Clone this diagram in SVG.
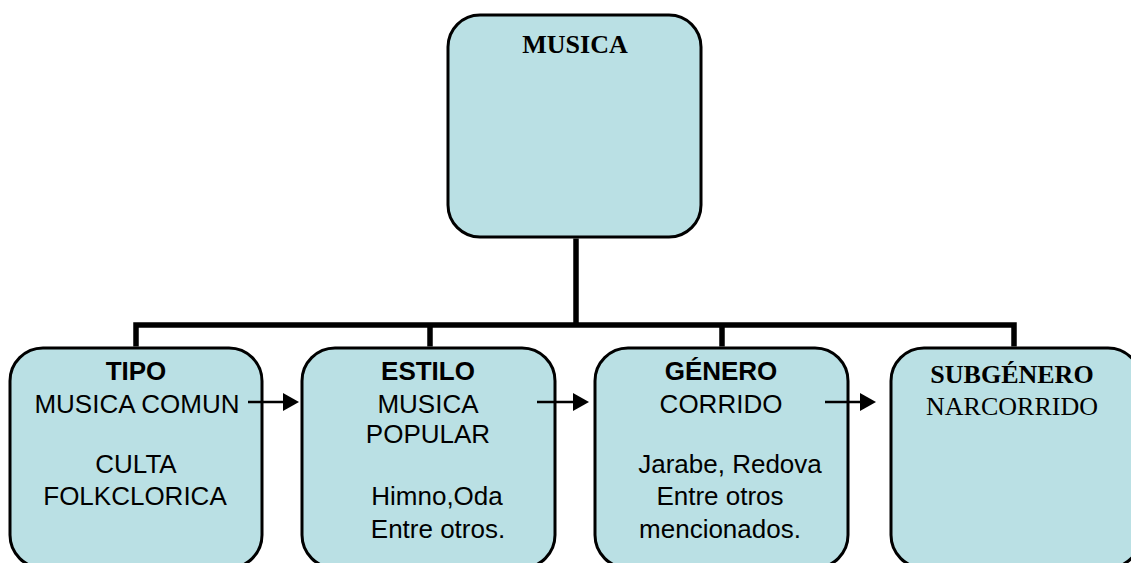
<svg xmlns="http://www.w3.org/2000/svg" width="1131" height="563" viewBox="0 0 1131 563">
<style>
.box{fill:#bae0e4;stroke:#000;stroke-width:3}
.s{font-family:"Liberation Sans",Arial,sans-serif;font-size:26px;fill:#000;text-anchor:middle}
.r{font-family:"Liberation Serif","Times New Roman",serif;font-size:26px;fill:#000;text-anchor:middle}
.b{font-weight:bold}
.ln{fill:none;stroke:#000;stroke-width:5.5}
.ar{fill:none;stroke:#000;stroke-width:2.5}
</style>
<rect width="1131" height="563" fill="#fff"/>
<g id="musica">
<rect class="box" x="448" y="15" width="253" height="222" rx="32"/>
<text class="r b" x="575" y="53">MUSICA</text>
</g>
<g id="tipo">
<rect class="box" x="10" y="348" width="252" height="220" rx="33"/>
<text class="s b" x="136" y="380">TIPO</text>
<text class="s" x="137" y="413">MUSICA COMUN</text>
<text class="s" x="136" y="473">CULTA</text>
<text class="s" x="135" y="505">FOLKCLORICA</text>
</g>
<g id="estilo">
<rect class="box" x="302" y="348" width="253" height="220" rx="33"/>
<text class="s b" x="428" y="380">ESTILO</text>
<text class="s" x="428" y="413">MUSICA</text>
<text class="s" x="428" y="443">POPULAR</text>
<text class="s" x="437" y="505">Himno,Oda</text>
<text class="s" x="438" y="538">Entre otros.</text>
</g>
<g id="genero">
<rect class="box" x="595" y="348" width="253" height="220" rx="33"/>
<text class="s b" x="721" y="380">GÉNERO</text>
<text class="s" x="721" y="413">CORRIDO</text>
<text class="s" x="730" y="473">Jarabe, Redova</text>
<text class="s" x="720" y="505">Entre otros</text>
<text class="s" x="720" y="538">mencionados.</text>
</g>
<g id="subgenero">
<rect class="box" x="891" y="348" width="250" height="220" rx="33"/>
<text class="r b" x="1012" y="383">SUBGÉNERO</text>
<text class="r" x="1012" y="415">NARCORRIDO</text>
</g>
<g id="connectors">
<path class="ln" d="M576,238.5 V325 M136,346.5 V325 H1014 V346.5 M430,325 V346.5 M722,325 V346.5"/>
<path d="M248,402 H284" class="ar"/><path d="M283,393 L299,402 L283,411 Z" fill="#000"/>
<path d="M537,402 H574" class="ar"/><path d="M573,393 L589,402 L573,411 Z" fill="#000"/>
<path d="M825,402 H861" class="ar"/><path d="M860,393 L876,402 L860,411 Z" fill="#000"/>
</g>
</svg>
